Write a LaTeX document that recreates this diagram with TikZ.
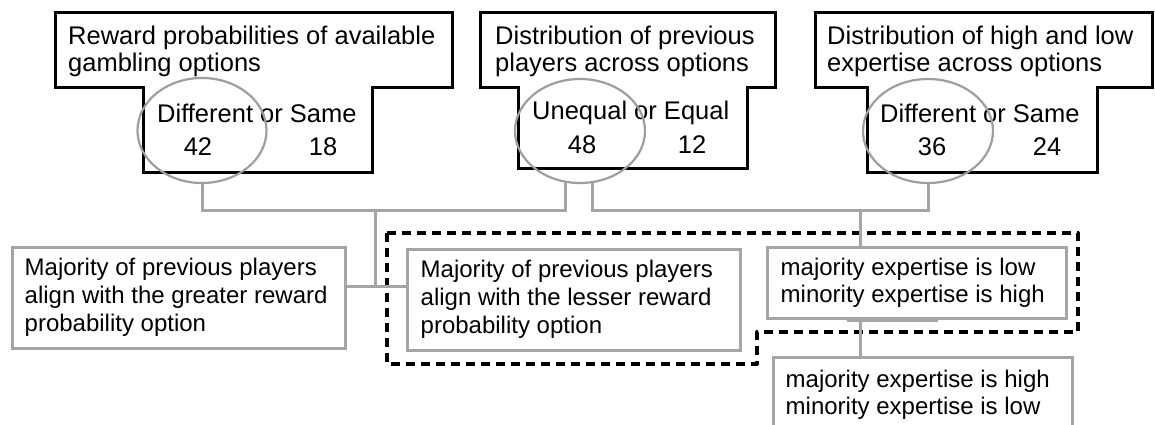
\documentclass[tikz,border=0pt]{standalone}
\usepackage{fontspec}
\setmainfont{Liberation Sans}
\usetikzlibrary{shapes.geometric,calc}
\definecolor{gline}{RGB}{165,165,165}
\definecolor{gell}{RGB}{158,158,158}
\begin{document}
\begin{tikzpicture}[x=1pt,y=-1pt,
  txt/.style={font=\fontsize{25.5pt}{27.5pt}\selectfont, inner sep=0pt, align=left, text=black},
  txtb/.style={font=\fontsize{24pt}{28pt}\selectfont, inner sep=0pt, align=left, text=black},
  txtc/.style={font=\fontsize{24pt}{27pt}\selectfont, inner sep=0pt, align=left, text=black},
  tbox/.style={draw=black,line width=3pt,line join=miter},
  gbox/.style={draw=gline,line width=3pt,rectangle,inner sep=0pt,fill=white},
  conn/.style={draw=gline,line width=3pt},
  ell/.style={ellipse,draw=gell,line width=2.2pt,inner sep=0pt},
  dbox/.style={draw=black,line width=4pt,dash pattern=on 9pt off 6pt,line join=round}]

\useasboundingbox (0,0) rectangle (1155,425);

% T-shaped header boxes
\draw[tbox] (55,13) -- (452,13) -- (452,88) -- (372,88) -- (372,172) -- (143,172) -- (143,88) -- (55,88) -- cycle;
\draw[tbox] (480,13) -- (775,13) -- (775,88) -- (747,88) -- (747,168) -- (518,168) -- (518,88) -- (480,88) -- cycle;
\draw[tbox] (815,13) -- (1152,13) -- (1152,88) -- (1097,88) -- (1097,172) -- (867,172) -- (867,88) -- (815,88) -- cycle;

% header texts
\node[txt,anchor=north west] (h1) at (68,25.6) {Reward probabilities of available\\gambling options};
\node[txt,anchor=north west] (h2) at (495,25.6) {Distribution of previous\\players across options};
\node[txt,anchor=north west] (h3) at (827,25.6) {Distribution of high and low\\expertise across options};

% choice texts
\node[txt,anchor=base west] (o1) at (157,122) {Different or Same};
\node[txt,anchor=base] (n42) at (198,155) {42};
\node[txt,anchor=base] (n18) at (323,155) {18};
\node[txt,anchor=base west] (o2) at (532,120) {Unequal or Equal};
\node[txt,anchor=base] (n48) at (582,153) {48};
\node[txt,anchor=base] (n12) at (692,153) {12};
\node[txt,anchor=base west] (o3) at (880,122) {Different or Same};
\node[txt,anchor=base] (n36) at (932,155) {36};
\node[txt,anchor=base] (n24) at (1047,155) {24};

% ellipses
\node[ell,minimum width=129pt,minimum height=105pt] (e1) at (202,130.5) {};
\node[ell,minimum width=130pt,minimum height=104pt] (e2) at (580,131) {};
\node[ell,minimum width=130pt,minimum height=104pt] (e3) at (928,131) {};

% dashed group
\draw[dbox] (387,233) -- (1078,233) -- (1078,332) -- (757,332) -- (757,364) -- (387,364) -- cycle;

% lower boxes
\node[gbox,minimum width=333pt,minimum height=101pt] (L1) at (178.5,297.5) {};
\node[txtb,anchor=west,xshift=14pt] (t1) at (L1.west) {Majority of previous players\\align with the greater reward\\probability option};
\node[gbox,minimum width=333pt,minimum height=101pt] (L2) at (573.5,299.5) {};
\node[txtb,anchor=west,xshift=15pt] (t2) at (L2.west) {Majority of previous players\\align with the lesser reward\\probability option};
\node[gbox,minimum width=299pt,minimum height=71pt] (L3) at (916.5,282.5) {};
\node[txtc,anchor=west,xshift=15pt] (t3) at (L3.west) {majority expertise is low\\minority expertise is high};
\node[gbox,minimum width=299pt,minimum height=75pt] (L4) at (922.5,394.5) {};
\node[txtc,anchor=west,xshift=14pt] (t4) at (L4.west) {majority expertise is high\\minority expertise is low};

% connectors
\coordinate (j1) at (375,210);
\coordinate (j2) at (375,286);
\coordinate (j3) at (860,210);
\draw[conn] (e1.south) |- (j1) -| (e2.-106);
\draw[conn] (e2.-77) |- (j3) -| (e3.south);
\draw[conn] (j1) -- (j2);
\draw[conn] (L1.east |- j2) -- (L2.west |- j2);
\draw[conn] (j3) -- (j3 |- L3.north);
\draw[conn] (L3.south -| j3) -- (L4.north -| j3);
\draw[gline,line width=3pt] (847,320) -- (938,320);
\end{tikzpicture}
\end{document}
